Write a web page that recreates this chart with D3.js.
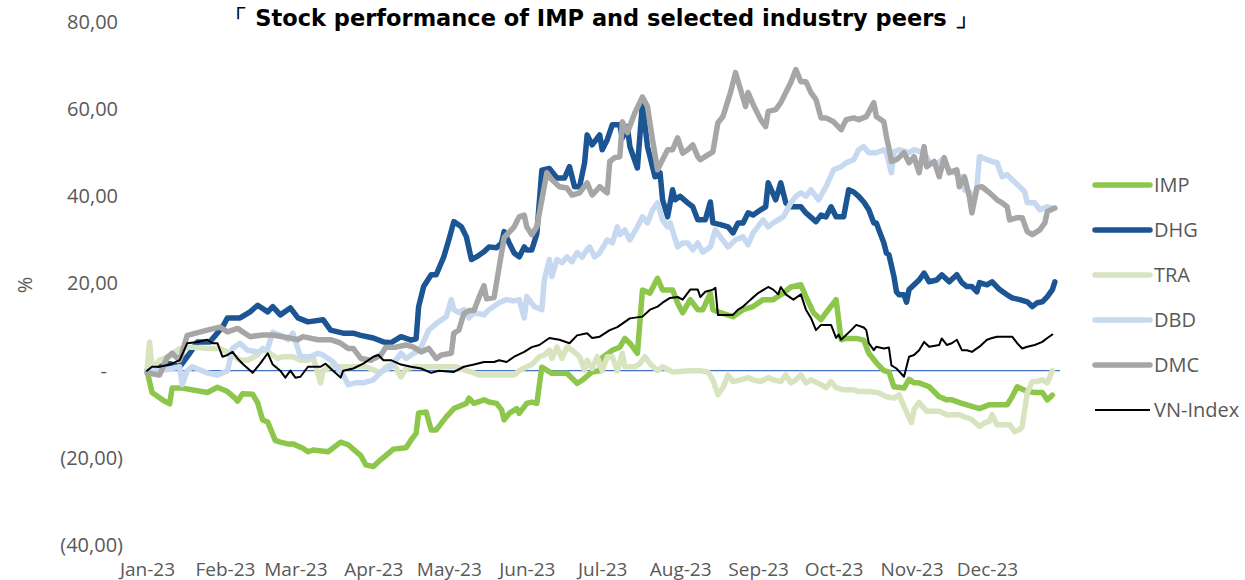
<!DOCTYPE html>
<html>
<head>
<meta charset="utf-8">
<script src="https://cdn.jsdelivr.net/npm/d3@7"></script>
<style>
  body { margin: 0; background: #fff; }
  text { font-family: "Open Sans", sans-serif; }
</style>
</head>
<body>
<svg id="chart" width="1245" height="580"></svg>
<script>
// [day of 2023 (0 = 1 Jan), % change since start of year]
const impData = [[0,0],[2,-5],[7,-7],[9,-7.6],[10,-4],[14,-4],[24,-5],[28,-3.8],[32,-4.8],[35,-6.3],[36,-7],[38,-5.3],[42,-5.4],[44,-7.4],[46,-11.3],[48,-11.8],[51,-16],[53,-16.4],[56,-16.8],[58,-16.8],[62,-17.8],[64,-18.6],[66,-18.2],[72,-18.6],[77,-16.4],[80,-17],[85,-19.5],[87,-21.6],[90,-22],[93,-20.4],[98,-18],[103,-17.7],[105,-15.9],[107,-14.4],[108,-9.7],[111,-9.5],[113,-13.6],[115,-13.6],[119,-10.6],[122,-8.7],[127,-7.5],[128,-6.3],[130,-7.5],[134,-6.7],[136,-7.2],[139,-7.5],[141,-9],[142,-11.3],[144,-9.8],[147,-8.7],[148,-9.8],[151,-7.5],[153,-7.2],[155,-7.5],[157,0.8],[161,-0.6],[167,-0.6],[171,-2.9],[173,-2.2],[177,-0.3],[180,0],[181,3],[185,4.7],[188,5.4],[190,7.4],[192,6.3],[195,4],[197,18.5],[200,17.8],[203,21.2],[205,18.5],[209,18.5],[211,15.5],[213,13.3],[216,16.3],[219,14],[221,14],[224,17.8],[225,14],[228,13.3],[233,12.4],[237,14],[241,14.7],[245,16.3],[249,16.3],[253,17.8],[256,19.2],[260,19.7],[262,17],[265,13.3],[268,11.7],[270,13.3],[274,16.3],[275,11.7],[276,7.1],[278,7.4],[282,7.4],[285,7],[287,4],[290,1.8],[293,0],[295,-0.3],[297,-3.7],[301,-4],[303,-2],[305,-2.8],[307,-2.8],[311,-3.7],[315,-6],[318,-6.7],[320,-6.7],[324,-7.5],[328,-8.2],[331,-8.7],[335,-7.8],[339,-7.8],[342,-7.8],[344,-6],[346,-3.7],[350,-4.8],[353,-5],[356,-5],[358,-6.7],[360,-5.6]];

const dhgData = [[0,0],[9,1.6],[13,0.9],[17,4],[20,6.6],[25,6.6],[30,10],[32,12.1],[37,12.1],[41,13.5],[44,15],[48,13.5],[50,14.7],[53,12.8],[57,14.4],[60,12.1],[64,11.2],[70,11.7],[73,9.3],[78,8.6],[82,8.6],[85,8.1],[90,7.5],[94,6.6],[97,6.4],[101,7.8],[105,7],[107,7.3],[108,14.7],[110,19.3],[113,22],[115,22],[118,26.1],[120,30],[122,34.2],[125,33],[127,30.7],[129,25.5],[131,26.1],[134,27.3],[136,28.4],[139,28.2],[141,29.3],[142,31.9],[144,29.3],[146,27],[148,26.1],[150,28.4],[151,27.7],[153,27.7],[155,31.4],[157,46],[160,46.4],[163,44.2],[166,44.2],[168,46.8],[170,42.2],[172,42.2],[174,47.7],[175,54.1],[177,51.8],[180,54.1],[181,50.7],[183,53],[185,56.4],[188,56.4],[189,53.4],[191,56],[192,51.4],[195,46.5],[197,61.5],[199,51.4],[202,44.5],[204,45.4],[205,39.2],[207,35.3],[209,41.5],[210,39.2],[212,40],[215,38.5],[217,37.6],[219,34.6],[222,34.6],[224,38.7],[225,33.9],[228,33.5],[231,33],[233,31.6],[235,33.9],[237,33.9],[239,36.2],[241,35.7],[244,36.9],[246,37.6],[247,43.1],[250,39.2],[252,43.1],[254,38.5],[256,37.6],[260,37.6],[262,36.2],[266,34.2],[268,35.7],[270,35.3],[272,37.6],[274,35.3],[277,35.3],[279,41.5],[281,41],[283,40],[285,38.7],[287,36.9],[289,33.9],[290,33.9],[291,32.3],[293,29.3],[294,27],[295,26.6],[297,21.6],[298,18.1],[299,17.4],[301,17.4],[302,15.7],[303,18.6],[305,19.7],[307,20.8],[309,22.4],[311,20.4],[314,20.8],[316,22],[319,20.4],[322,22],[324,20.2],[326,19.3],[328,19.3],[330,18.1],[331,20.2],[334,19.7],[336,20.4],[339,18.6],[342,17.4],[344,16.7],[347,16.3],[350,15.8],[352,14.7],[354,15.6],[356,15.8],[358,17],[360,18.6],[361,20.4]];

const traData = [[0,0],[1,6.6],[2,0.5],[5,2.4],[9,3.2],[13,5.1],[18,5.4],[24,5.1],[29,5.1],[32,4.3],[37,2.4],[40,2.4],[44,3.6],[46,5.1],[48,4.3],[52,2.8],[54,3.2],[58,3.2],[61,2.4],[64,2.4],[66,3.2],[69,-2.8],[70,0],[73,0.9],[87,0.9],[93,-0.5],[95,0.9],[98,1.6],[101,-1.4],[103,0.5],[107,0.9],[123,0.9],[127,0],[130,-0.5],[132,-1],[146,-1],[148,0],[151,0.9],[153,1.4],[156,3.2],[158,3.6],[160,4.7],[161,2.8],[163,5.4],[165,2.8],[167,5.4],[169,4.7],[172,3.2],[174,0],[175,2.4],[177,0.5],[179,3.2],[181,0],[183,3.2],[185,3.2],[187,0],[189,4],[190,0.9],[194,0.9],[196,1.6],[198,3.2],[200,1.6],[203,0],[205,0.9],[209,-0.3],[216,0],[220,0],[223,-0.3],[225,-2.1],[227,-5.5],[229,-3.9],[231,-1],[233,-2.5],[236,-2.1],[239,-1.6],[241,-2.1],[244,-2.5],[247,-1.6],[249,-2.1],[252,-2.5],[254,-1],[256,-2.8],[258,-2.1],[260,-1],[262,-2.8],[264,-2.1],[268,-3.2],[270,-3.9],[272,-2.5],[274,-3.9],[277,-4.4],[281,-4.4],[283,-4.8],[287,-4.8],[291,-5.1],[294,-6],[297,-6.3],[299,-5.5],[301,-8.2],[303,-10.7],[304,-11.9],[305,-8.9],[307,-7.3],[310,-9.3],[315,-9.3],[318,-10.1],[323,-10.1],[326,-10.8],[328,-11.2],[331,-12.8],[333,-12],[335,-11.6],[336,-10.1],[338,-12.4],[343,-12.4],[345,-14],[347,-13.5],[348,-12.8],[350,-5.1],[352,-2.5],[354,-2.5],[356,-2.1],[358,-2.8],[359,-1.4],[360,0]];

const dbdData = [[0,0],[5,0],[10,0.5],[13,0.9],[14,-3.2],[16,0],[18,0.9],[24,-0.5],[28,-1],[32,0],[34,5.1],[37,6.3],[40,4.7],[44,4.3],[48,5.1],[50,8.8],[53,8.1],[56,7.1],[58,8.6],[61,3.2],[65,3.2],[68,4],[70,3.6],[74,2],[78,-1],[80,-3.2],[83,-2.8],[86,-2.8],[90,-2.1],[93,-0.3],[97,0.9],[101,4],[103,2.8],[107,4.3],[109,5.4],[112,9.3],[115,10.8],[119,12.4],[121,16.3],[122,14],[124,13.3],[126,14],[128,12.1],[130,13.3],[134,12.8],[136,14],[140,15.6],[143,16.3],[146,16],[148,16.3],[150,12.1],[151,17],[154,14.7],[157,14],[158,20.9],[160,25.5],[161,21.6],[163,25.5],[165,24.8],[167,26.1],[169,25],[171,27.1],[173,26],[175,27.8],[176,28.4],[178,26.1],[180,27],[183,30],[185,29.3],[187,33],[188,31.2],[190,32.3],[192,30],[195,33],[197,35.3],[199,33.9],[201,36.9],[203,38.5],[205,34.6],[207,33],[208,33.9],[211,28.4],[213,29.3],[215,29.3],[217,27.7],[219,29.3],[221,27.2],[224,28.4],[226,32.3],[228,30.7],[231,28.4],[234,30],[237,30.7],[239,28.9],[241,31.6],[245,34.6],[247,33],[249,33.9],[253,35.3],[256,38.5],[258,40],[260,40.8],[262,40],[264,41.5],[267,39.2],[270,42.2],[273,46.1],[276,46.8],[278,47.7],[281,48.4],[283,50.7],[285,51.4],[287,50],[290,50],[293,50.7],[294,50],[296,45.4],[297,50.2],[299,50.7],[303,50],[305,50.7],[309,50],[311,48],[314,47.3],[316,48.4],[319,46.1],[322,45],[324,44.3],[325,41.5],[327,41],[329,39.2],[330,42.2],[331,49.1],[334,48.4],[336,48],[338,47.7],[340,44.5],[342,45],[344,43.8],[347,42.2],[349,41],[350,38.5],[353,38.5],[355,36.9],[358,37.6],[360,37.3]];

const dmcData = [[0,-0.5],[5,-1],[8,3],[10,4],[13,2.4],[16,8.1],[24,9.3],[29,10],[32,8.9],[36,9.7],[41,7.8],[46,8.2],[50,8.2],[54,7.8],[60,7.1],[62,7.8],[68,7.1],[73,7.1],[77,6.3],[80,5.1],[82,5.1],[85,2.8],[89,2.4],[93,3.6],[95,5.4],[99,5.4],[103,5.9],[106,5.4],[109,4.3],[112,5.1],[115,2.8],[117,3.6],[121,4],[122,8.6],[124,9.3],[126,13.1],[128,13.8],[130,13.8],[132,16.8],[134,19.5],[135,16.5],[138,16.8],[140,23.7],[142,30.5],[146,33],[148,35.3],[150,35.7],[151,33],[153,31.2],[155,33],[157,39.2],[159,45.4],[161,43.8],[164,42.2],[167,41.9],[169,40.3],[172,40.8],[175,43.1],[177,40.3],[180,42.2],[183,40.8],[184,48],[186,48.9],[188,49.1],[189,57.1],[191,54.6],[194,59.2],[197,62.8],[199,60.6],[201,53],[203,46.1],[205,48.4],[207,50.7],[209,50.7],[211,53.4],[213,49.9],[215,50.7],[217,51.8],[219,49.1],[220,48.4],[223,49.5],[225,50.2],[227,56.9],[229,58.3],[232,63.8],[234,68.4],[236,64.5],[238,60.6],[239,63.8],[241,61.1],[244,57.6],[246,56],[247,59.5],[250,59.9],[252,61.5],[254,63.8],[256,66.1],[258,69.1],[260,66.3],[262,66.3],[264,63.8],[266,62.2],[268,58],[270,58],[273,57.1],[276,55.3],[278,57.6],[281,58],[283,57.6],[286,58.3],[289,61.5],[290,58.3],[293,57.1],[294,53.7],[295,51.1],[296,48],[298,48.4],[301,50],[303,47.7],[305,49.1],[307,45.4],[309,51.4],[310,46.8],[313,48],[315,44.5],[317,48.9],[319,45.4],[322,46.1],[323,42.2],[325,44.5],[327,39.9],[328,36.2],[330,42],[332,42.2],[335,40.8],[338,39.2],[340,38.5],[342,37.6],[343,34.6],[346,35.1],[348,35.1],[350,31.9],[352,31.2],[355,32.3],[357,33.9],[358,36.5],[361,37.3]];

const vnIndexData = [[0,0],[2,0.9],[5,0.9],[9,1.4],[13,2.4],[16,6.3],[20,6.6],[24,7.1],[26,6.3],[28,6.3],[30,3.2],[32,3.6],[34,4.3],[36,2.8],[38,1.6],[42,-0.5],[45,1.6],[48,4],[50,1.4],[53,0],[55,-1.6],[57,0],[59,-1.6],[61,-1.4],[64,0.9],[69,0.9],[71,1.6],[74,0],[77,-1.6],[78,0],[82,0.5],[86,1.6],[90,3.2],[92,3.6],[94,2.4],[97,2.4],[101,1.4],[105,0.9],[109,0.5],[113,-0.5],[116,0],[122,-0.3],[126,0.9],[130,1.4],[134,2],[138,2],[140,2.4],[143,2],[146,3.2],[150,4.3],[153,5.4],[156,5.9],[160,7.5],[164,7.1],[168,6.3],[171,8.1],[175,8.6],[177,7.5],[180,7.8],[184,9.3],[187,10],[189,10.8],[192,12],[197,12.4],[200,14],[203,14.7],[205,15.6],[208,16.7],[211,16.9],[213,16.3],[216,18.6],[219,18.6],[220,16.9],[222,18.1],[225,18.6],[226,19],[227,12.8],[233,12.8],[235,14],[237,14.7],[240,16.3],[243,17.8],[247,19.2],[249,18.6],[251,17.5],[252,19.2],[254,17.5],[257,16.3],[260,17.5],[262,14],[264,12.1],[266,9.3],[268,10.5],[272,10.5],[274,7.5],[275,8.3],[276,7.1],[280,9.3],[282,10.5],[285,9.9],[286,9.3],[287,6.3],[289,4.7],[290,5.5],[293,5.1],[295,5.3],[296,1.2],[298,0.5],[301,-1.4],[303,3.2],[305,3.6],[307,4.7],[309,6.6],[311,5.5],[315,5.9],[316,7.4],[318,5.9],[320,6.3],[322,7.1],[324,4.7],[326,4.7],[328,4.3],[331,5.5],[334,7.1],[336,7.5],[338,7.8],[344,7.8],[346,6.3],[348,5.1],[350,5.5],[353,5.9],[356,6.6],[358,7.5],[360,8.3]];

const seriesNames = ["IMP", "DHG", "TRA", "DBD", "DMC", "VN-Index"];
const seriesData = [impData, dhgData, traData, dbdData, dmcData, vnIndexData];
const yTicks = [-40, -20, 0, 20, 40, 60, 80];
const monthTicks = d3.timeMonth.range(new Date(2023, 0, 1), new Date(2023, 11, 2));
const title = "\u300C Stock performance of IMP and selected industry peers \u300D";

// look of each series, same order as seriesNames
const colors = ["#8cc64a", "#1c5593", "#d8e4bf", "#c6d9f0", "#a6a6a6", "#000000"];
const widths = [5.5, 5.5, 5.5, 5.5, 5.5, 2];

const svg = d3.select("#chart");
const start = new Date(2023, 0, 1);
const toDate = d => d3.timeDay.offset(start, d);

const x = d3.scaleTime()
    .domain([start, new Date(2023, 11, 1)])
    .range([147, 987]);
const y = d3.scaleLinear()
    .domain([-40, 80])
    .range([545, 22]);

// title
svg.append("text")
    .attr("x", 601)
    .attr("y", 26)
    .attr("text-anchor", "middle")
    .style("font-family", "'DejaVu Sans', sans-serif")
    .style("font-weight", "bold")
    .style("font-size", "22.5px")
    .attr("fill", "#000")
    .text(title);

// y axis
const fmt = v => {
    if (v === 0) return "-";
    const s = Math.abs(v).toFixed(2).replace(".", ",");
    return v < 0 ? "(" + s + ")" : s;
};
const yAxis = svg.append("g")
    .attr("transform", "translate(123,0)")
    .call(d3.axisLeft(y).tickValues(yTicks).tickFormat(fmt).tickSize(0).tickPadding(0));
yAxis.select(".domain").remove();
yAxis.selectAll("text")
    .attr("fill", "#595959")
    .style("font-size", "20px")
    .attr("dx", d => d > 0 ? -5 : d === 0 ? -16 : 0);

// x axis
const xAxis = svg.append("g")
    .attr("transform", "translate(0,562)")
    .call(d3.axisBottom(x).tickValues(monthTicks).tickFormat(d3.timeFormat("%b-%y")).tickSize(0).tickPadding(0));
xAxis.select(".domain").remove();
xAxis.selectAll("text")
    .attr("fill", "#595959")
    .style("font-size", "19px");

// axis title
svg.append("text")
    .attr("transform", "translate(32,285) rotate(-90)")
    .attr("text-anchor", "middle")
    .attr("fill", "#595959")
    .style("font-size", "20px")
    .text("%");

// zero line
svg.append("line")
    .attr("x1", x(start) - 1)
    .attr("x2", x(toDate(363)))
    .attr("y1", y(0))
    .attr("y2", y(0))
    .attr("stroke", "#4472c4")
    .attr("stroke-width", 1.2);

// lines
const line = d3.line()
    .x(d => x(toDate(d[0])))
    .y(d => y(d[1]));

svg.append("g")
    .selectAll("path")
    .data(seriesData)
    .enter()
    .append("path")
    .attr("d", line)
    .attr("fill", "none")
    .attr("stroke", (d, i) => colors[i])
    .attr("stroke-width", (d, i) => widths[i])
    .attr("stroke-linejoin", "round")
    .attr("stroke-linecap", "round");

// legend
const legend = svg.append("g")
    .selectAll("g")
    .data(seriesNames)
    .enter()
    .append("g")
    .attr("transform", (d, i) => "translate(1095," + (185 + i * 45) + ")");
legend.append("line")
    .attr("x1", 0)
    .attr("x2", 55)
    .attr("stroke", (d, i) => colors[i])
    .attr("stroke-width", (d, i) => widths[i])
    .attr("stroke-linecap", (d, i) => widths[i] > 2 ? "round" : "butt");
legend.append("text")
    .attr("x", 59)
    .attr("dy", "0.35em")
    .attr("fill", "#595959")
    .style("font-size", "20px")
    .text(d => d);
</script>
</body>
</html>
